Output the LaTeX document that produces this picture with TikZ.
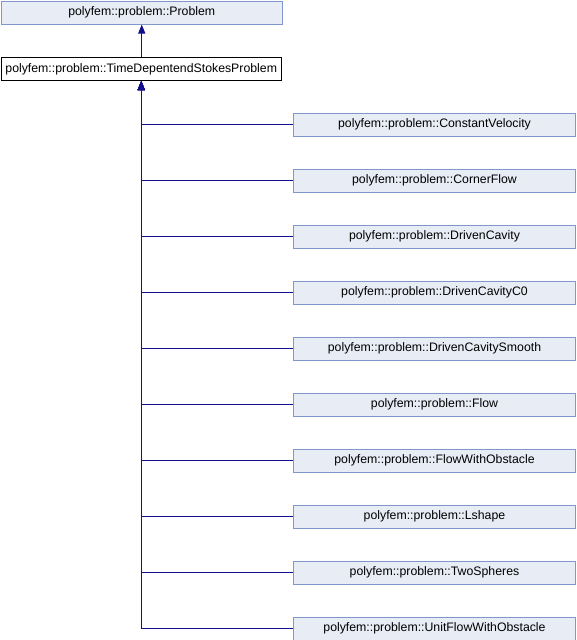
\documentclass[tikz,border=0pt]{standalone}
\usepackage{fontspec}
\setmainfont{Liberation Sans}
\usetikzlibrary{arrows.meta}
\definecolor{classfill}{HTML}{E8ECF5}
\definecolor{classdraw}{HTML}{7F97CA}
\definecolor{edgecol}{HTML}{10108C}
\begin{document}
\begin{tikzpicture}[x=1pt,y=-1pt,
  cls/.style={draw=classdraw, fill=classfill, line width=1pt, minimum height=23pt,
    inner sep=0pt, font=\fontsize{12.3}{14}\selectfont, anchor=north west},
  basecls/.style={cls, minimum width=281.5pt},
  selfcls/.style={cls, draw=black, fill=white, minimum width=280.5pt},
  childcls/.style={cls, minimum width=282pt},
  edge/.style={draw=edgecol, line width=1pt, -{Triangle[length=9pt,width=7pt]}}]
  \useasboundingbox (0,0) rectangle (576,640);
  \node[basecls] (base) at (0.5,0.5) {polyfem::problem::Problem};
  \node[selfcls] (mid) at (0.5,57) {polyfem::problem::TimeDepentendStokesProblem};
  \foreach \name/\txt [count=\i from 0] in {
      c0/ConstantVelocity, c1/CornerFlow, c2/DrivenCavity, c3/DrivenCavityC0,
      c4/DrivenCavitySmooth, c5/Flow, c6/FlowWithObstacle, c7/Lshape,
      c8/TwoSpheres, c9/UnitFlowWithObstacle} {
    \node[childcls] (\name) at (293,{112.5+56*\i}) {polyfem::problem::\txt};
  }
  \draw[edge] (mid.north -| base.south) -- (base.south);
  \foreach \name in {c0,c1,c2,c3,c4,c5,c6,c7,c8,c9} {
    \draw[edge] (\name.west) -| (mid.south);
  }
\end{tikzpicture}
\end{document}
